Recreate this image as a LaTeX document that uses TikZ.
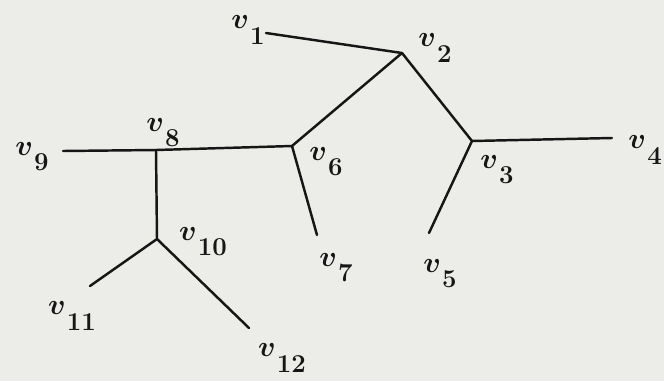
\documentclass[tikz,border=0pt]{standalone}
\usepackage{tikz}
\definecolor{paper}{RGB}{236,236,233}
\definecolor{ink}{RGB}{22,22,22}
\newcommand{\vlab}[1]{$v$\kern1pt\raisebox{-0.42em}{\fontsize{22}{24}\selectfont #1}}
\tikzset{
  edge/.style={draw=ink,line width=2.1pt,line cap=round},
  vlabel/.style={text=ink,inner sep=0pt,font=\fontsize{31}{34}\selectfont\boldmath\bfseries}
}
\begin{document}
\begin{tikzpicture}[x=0.03cm,y=-0.03cm]
\useasboundingbox (0,0) rectangle (664,381);
\fill[paper] (0,0) rectangle (664,381);
% vertices
\coordinate (v1) at (266,33);
\coordinate (v2) at (402,53);
\coordinate (v3) at (472,141);
\coordinate (v4) at (612,138);
\coordinate (v5) at (429,233);
\coordinate (v6) at (292,146);
\coordinate (v7) at (317,235);
\coordinate (v8) at (156,150);
\coordinate (v9) at (63,151);
\coordinate (v10) at (157,239);
\coordinate (v11) at (90,286);
\coordinate (v12) at (249,328);
% edges
\draw[edge] (v1) -- (v2);
\draw[edge] (v2) -- (v3);
\draw[edge] (v3) -- (v4);
\draw[edge] (v3) -- (v5);
\draw[edge] (v2) -- (v6);
\draw[edge] (v9) -- (v8);
\draw[edge] (v8) -- (v6);
\draw[edge] (v6) -- (v7);
\draw[edge] (v8) -- (v10);
\draw[edge] (v10) -- (v11);
\draw[edge] (v10) -- (v12);
% labels
\node[vlabel] (l1) at (248,30) {\vlab{1}};
\node[vlabel] (l2) at (435,48) {\vlab{2}};
\node[vlabel] (l3) at (497,170) {\vlab{3}};
\node[vlabel,anchor=east] (l4) at (662,150) {\vlab{4}};
\node[vlabel] (l5) at (440,274) {\vlab{5}};
\node[vlabel] (l6) at (326,162) {\vlab{6}};
\node[vlabel] (l7) at (336,268) {\vlab{7}};
\node[vlabel] (l8) at (163,133) {\vlab{8}};
\node[vlabel] (l9) at (32,157) {\vlab{9}};
\node[vlabel] (l10) at (203,242) {\vlab{10}};
\node[vlabel] (l11) at (72,316) {\vlab{11}};
\node[vlabel] (l12) at (282,358) {\vlab{12}};
\end{tikzpicture}
\end{document}
